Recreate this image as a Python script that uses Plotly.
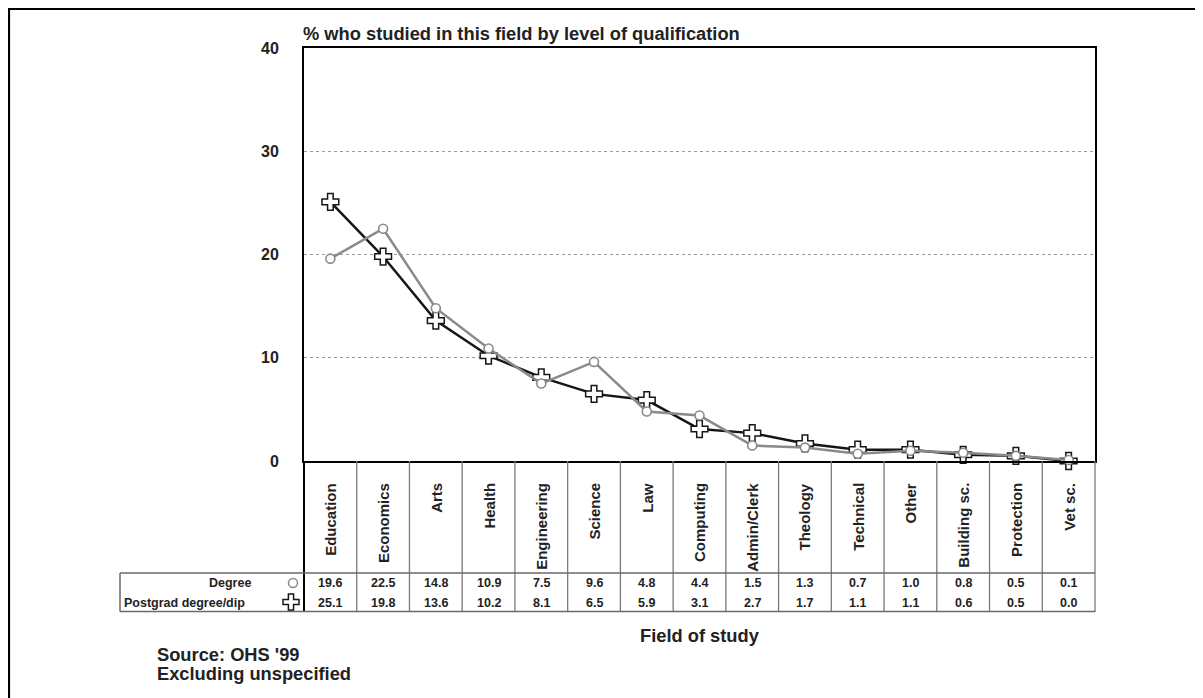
import plotly.graph_objects as go

categories = ["Education", "Economics", "Arts", "Health", "Engineering", "Science", "Law",
              "Computing", "Admin/Clerk", "Theology", "Technical", "Other", "Building sc.",
              "Protection", "Vet sc."]
degree = [19.6, 22.5, 14.8, 10.9, 7.5, 9.6, 4.8, 4.4, 1.5, 1.3, 0.7, 1.0, 0.8, 0.5, 0.1]
postgrad = [25.1, 19.8, 13.6, 10.2, 8.1, 6.5, 5.9, 3.1, 2.7, 1.7, 1.1, 1.1, 0.6, 0.5, 0.0]
series_names = ["Degree", "Postgrad degree/dip"]
y_ticks = [0, 10, 20, 30, 40]

# page coordinates (the figure sits at the 8px body margin)
OFF = 8
PAGE_W, PAGE_H = 1203, 698
W, H = PAGE_W - OFF, PAGE_H - OFF
L, R, T, B = 304, 1095, 48, 461
n = len(categories)

def px(xp):
    return (xp - L) / (R - L)

def py(yp):
    return (B - yp) / (B - T)

FONT = "Liberation Sans, Arial, sans-serif"
TXT = "#222222"
GREY = "#8a8a8a"
BLACK = "#1a1414"

xs = list(range(n))

fig = go.Figure()
cross_marker = dict(symbol="cross", size=14, color="white", line=dict(color=BLACK, width=1.5))
circle_marker = dict(symbol="circle", size=9, color="white", line=dict(color=GREY, width=1.6))

fig.add_trace(go.Scatter(x=xs, y=postgrad, mode="lines+markers", name=series_names[1],
                         line=dict(color=BLACK, width=2.5), marker=cross_marker, cliponaxis=False))
fig.add_trace(go.Scatter(x=xs, y=degree, mode="lines+markers", name=series_names[0],
                         line=dict(color=GREY, width=2.5), marker=circle_marker, cliponaxis=False))

shapes = []
# outer frame (extends beyond the visible window)
shapes.append(dict(type="line", xref="paper", yref="paper", x0=px(9), x1=px(1260), y0=py(9), y1=py(9),
                   line=dict(color="black", width=2.2)))
shapes.append(dict(type="line", xref="paper", yref="paper", x0=px(9), x1=px(9), y0=py(8), y1=py(760),
                   line=dict(color="black", width=2.2)))
# table: column separators
for i in range(n + 1):
    xp = L + (R - L) * i / n
    col = "black" if i == 0 else "#7a7a7a"
    w = 2 if i == 0 else 1.3
    shapes.append(dict(type="line", xref="paper", yref="paper", x0=px(xp), x1=px(xp), y0=py(B), y1=py(612),
                       line=dict(color=col, width=w)))
# table: horizontal lines and left edge
for yp in (573, 611.5):
    shapes.append(dict(type="line", xref="paper", yref="paper", x0=px(120), x1=px(R), y0=py(yp), y1=py(yp),
                       line=dict(color="#6a6a6a", width=1.5)))
shapes.append(dict(type="line", xref="paper", yref="paper", x0=px(120), x1=px(120), y0=py(573), y1=py(611.5),
                   line=dict(color="#6a6a6a", width=1.5)))

# legend keys inside the data table
shapes.append(dict(type="circle", xref="paper", yref="paper", xsizemode="pixel", ysizemode="pixel",
                   xanchor=px(293), yanchor=py(583), x0=-4.5, x1=4.5, y0=-4.5, y1=4.5,
                   fillcolor="white", line=dict(color=GREY, width=1.5)))
a, w2 = 8, 2.6
cross_path = (f"M{-w2},{a} L{w2},{a} L{w2},{w2} L{a},{w2} L{a},{-w2} L{w2},{-w2} L{w2},{-a} "
              f"L{-w2},{-a} L{-w2},{-w2} L{-a},{-w2} L{-a},{w2} L{-w2},{w2} Z")
shapes.append(dict(type="path", xref="paper", yref="paper", xsizemode="pixel", ysizemode="pixel",
                   xanchor=px(291), yanchor=py(602), path=cross_path,
                   fillcolor="white", line=dict(color=BLACK, width=1.5)))

ann = []
for i, c in enumerate(categories):
    ann.append(dict(x=i, xref="x", y=py(481), yref="paper", text=c, textangle=-90, showarrow=False,
                    xanchor="center", yanchor="top",
                    font=dict(family=FONT, size=15, color=TXT, weight="bold")))
    ann.append(dict(x=i, xref="x", y=py(583), yref="paper", text=f"{degree[i]:.1f}", showarrow=False,
                    xanchor="center", yanchor="middle",
                    font=dict(family=FONT, size=12.5, color=TXT, weight="bold")))
    ann.append(dict(x=i, xref="x", y=py(602.5), yref="paper", text=f"{postgrad[i]:.1f}", showarrow=False,
                    xanchor="center", yanchor="middle",
                    font=dict(family=FONT, size=12.5, color=TXT, weight="bold")))

ann.append(dict(x=px(253), xref="paper", y=py(583), yref="paper", text=series_names[0], showarrow=False,
                xanchor="right", yanchor="middle", font=dict(family=FONT, size=12.5, color=TXT, weight="bold")))
ann.append(dict(x=px(122), xref="paper", y=py(602.5), yref="paper", text=series_names[1], showarrow=False,
                xanchor="left", yanchor="middle", font=dict(family=FONT, size=12.5, color=TXT, weight="bold")))

BIG = 18.3
ann.append(dict(x=px(301), xref="paper", y=py(33), yref="paper",
                text="% who studied in this field by level of qualification", showarrow=False,
                xanchor="left", yanchor="middle", font=dict(family=FONT, size=BIG, color=TXT, weight="bold")))
ann.append(dict(x=px(700), xref="paper", y=py(635), yref="paper", text="Field of study", showarrow=False,
                xanchor="center", yanchor="middle", font=dict(family=FONT, size=BIG, color=TXT, weight="bold")))
ann.append(dict(x=px(155), xref="paper", y=py(654), yref="paper", text="Source: OHS '99", showarrow=False,
                xanchor="left", yanchor="middle", font=dict(family=FONT, size=BIG, color=TXT, weight="bold")))
ann.append(dict(x=px(155), xref="paper", y=py(673), yref="paper", text="Excluding unspecified", showarrow=False,
                xanchor="left", yanchor="middle", font=dict(family=FONT, size=BIG, color=TXT, weight="bold")))

fig.update_layout(
    width=W, height=H, autosize=False,
    margin=dict(l=L - OFF, r=PAGE_W - R, t=T - OFF, b=PAGE_H - B, pad=0),
    paper_bgcolor="white", plot_bgcolor="white",
    showlegend=False,
    shapes=shapes, annotations=ann,
    xaxis=dict(range=[-0.5, n - 0.5], showticklabels=False, showgrid=False, zeroline=False,
               showline=True, mirror=True, linecolor="black", linewidth=2, ticks="", fixedrange=True),
    yaxis=dict(range=[0, 40], tickvals=y_ticks, showgrid=True, gridcolor="#9a9a9a", griddash="dot",
               gridwidth=1, zeroline=False, showline=True, mirror=True, linecolor="black", linewidth=2,
               ticks="", ticklabelstandoff=20,
               tickfont=dict(family=FONT, size=16, color=TXT, weight="bold")),
)

fig.write_html("out.html")
